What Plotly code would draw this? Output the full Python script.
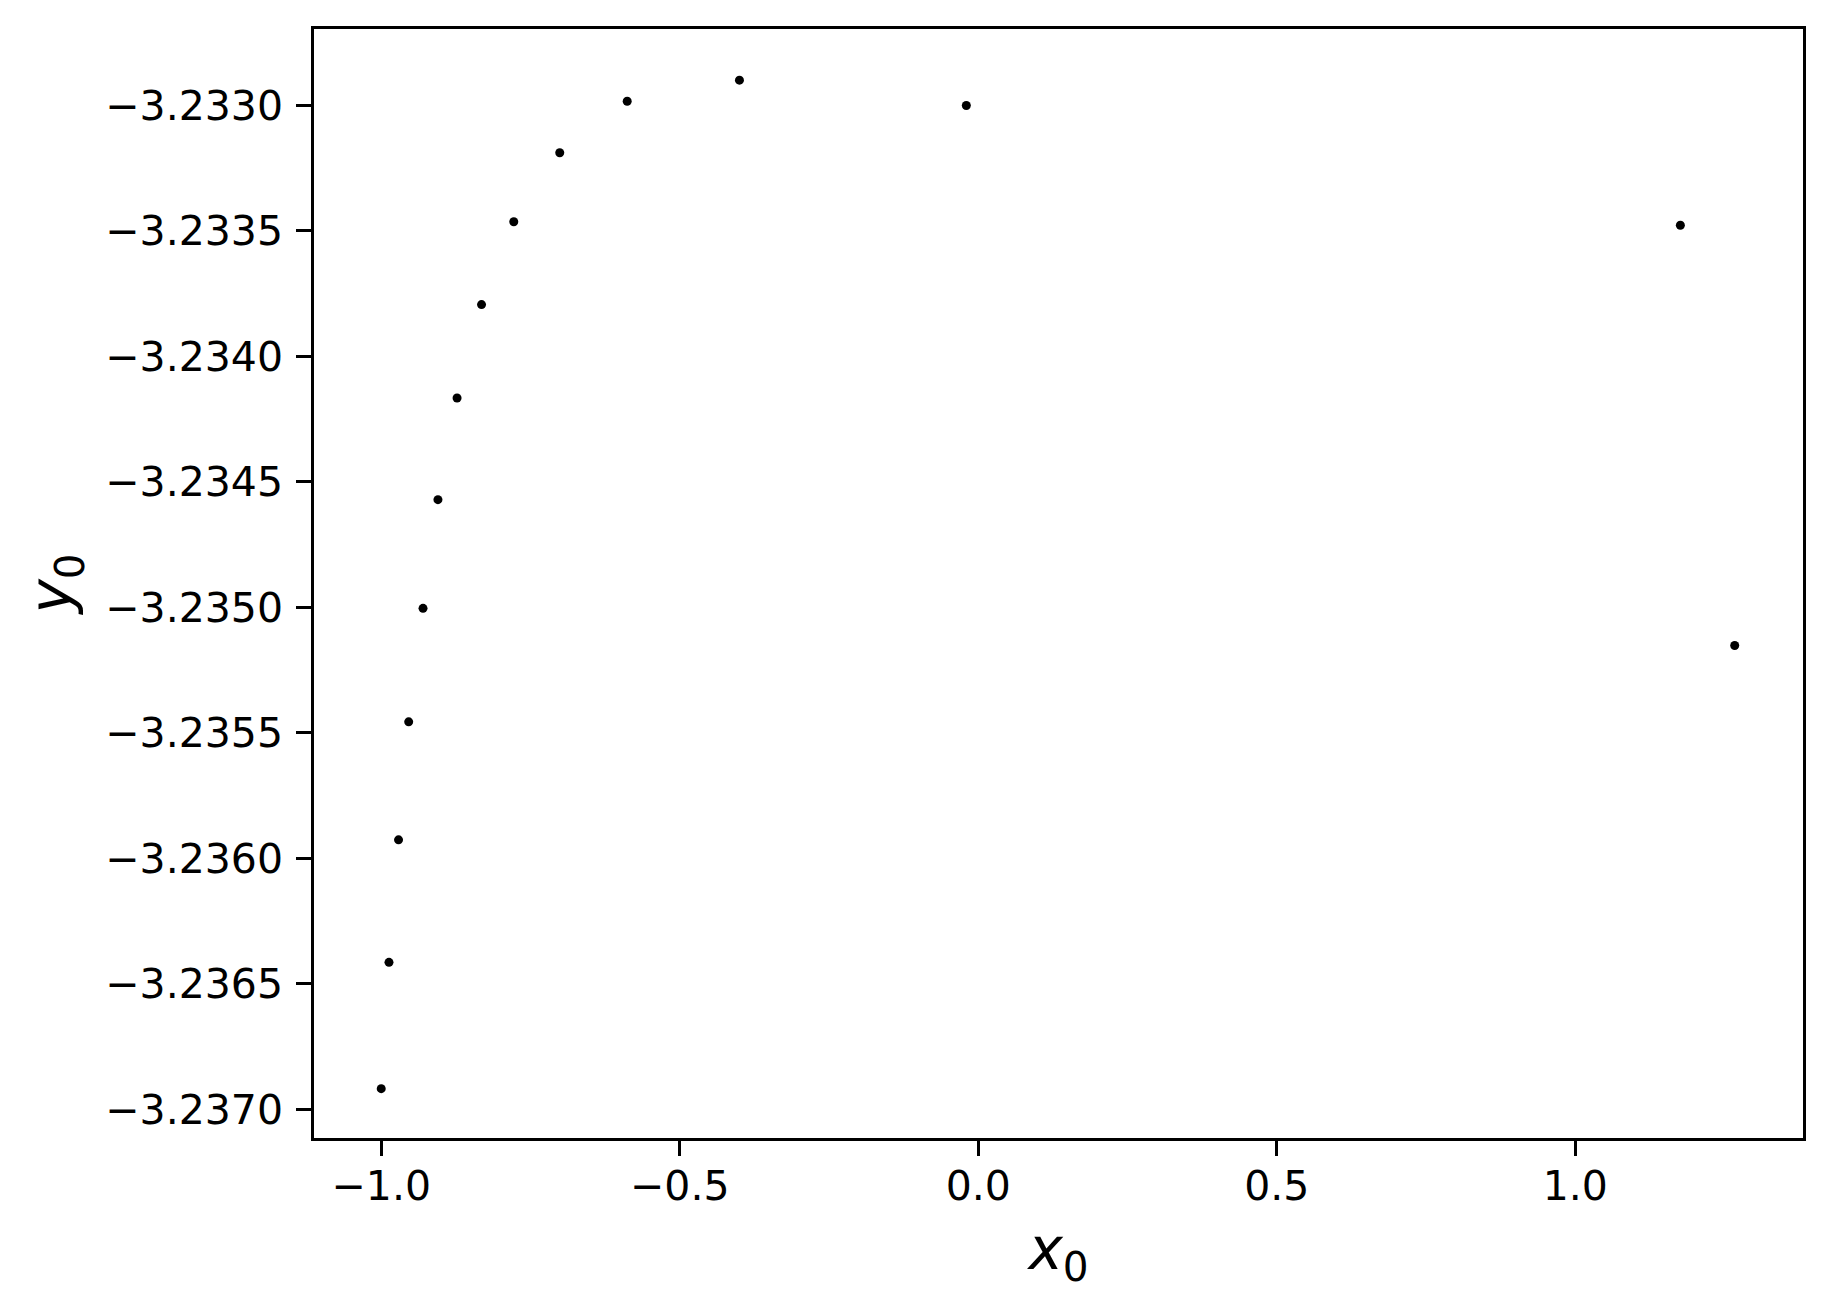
import plotly.graph_objects as go

# x0 / y0 values
x0 = [-1.000, -0.987, -0.971, -0.954, -0.930, -0.905, -0.873, -0.832,
      -0.778, -0.701, -0.588, -0.400, -0.020, 1.176, 1.267]
y0 = [-3.236917, -3.236414, -3.235926, -3.235456, -3.235004, -3.234571,
      -3.234166, -3.233794, -3.233464, -3.233189, -3.232984, -3.232900,
      -3.233001, -3.233478, -3.235152]

x_ticks = [-1.0, -0.5, 0.0, 0.5, 1.0]
y_ticks = [-3.2370, -3.2365, -3.2360, -3.2355, -3.2350, -3.2345,
           -3.2340, -3.2335, -3.2330]

FONT = "DejaVu Sans"

fig = go.Figure(
    go.Scatter(
        x=x0, y=y0, mode="markers",
        marker=dict(color="black", size=9, line=dict(width=0)),
        showlegend=False,
    )
)

axis_style = dict(
    showgrid=False, zeroline=False,
    showline=True, linecolor="black", linewidth=3.3, mirror=True,
    ticks="outside", ticklen=14.6, tickwidth=3.3, tickcolor="black",
    tickfont=dict(family=FONT, size=41, color="black"),
)

# page body adds an 8px offset, margins compensate for it
fig.update_layout(
    width=1831, height=1313,
    margin=dict(l=306, r=36, t=21, b=183),
    plot_bgcolor="white", paper_bgcolor="white",
    xaxis=dict(
        range=[-1.1126, 1.3814],
        tickvals=x_ticks, tickformat=".1f",
        ticklabelstandoff=-5,
        title=dict(text="<i>x</i><sub>0</sub>",
                   font=dict(family=FONT, size=58, color="black"),
                   standoff=20),
        **axis_style,
    ),
    yaxis=dict(
        range=[-3.2371136, -3.2326963],
        tickvals=y_ticks, tickformat=".4f",
        ticklabelstandoff=5,
        title=dict(text="<i>y</i><sub>0</sub>",
                   font=dict(family=FONT, size=58, color="black"),
                   standoff=15),
        **axis_style,
    ),
)

fig.write_html("out.html")
